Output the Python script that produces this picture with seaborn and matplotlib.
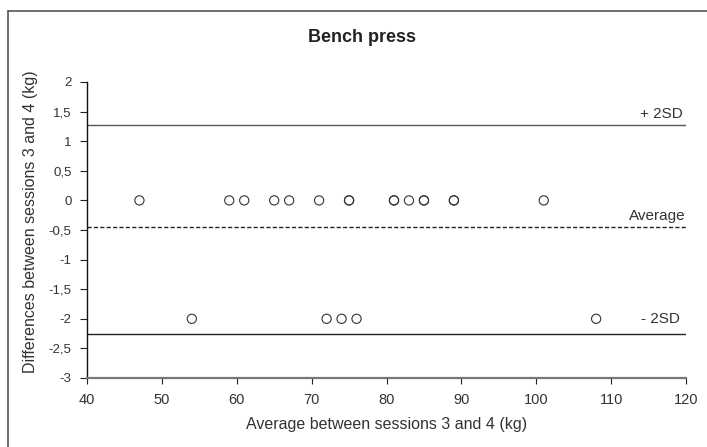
import matplotlib
matplotlib.use("Agg")
import matplotlib.pyplot as plt
import seaborn as sns
import pandas as pd
from matplotlib.lines import Line2D

sns.set_theme(style="white")
plt.rcParams['font.family'] = ['Liberation Sans', 'DejaVu Sans']

# Data
average_kg = [47, 59, 61, 65, 67, 71, 75, 75, 81, 81, 83, 85, 85, 89, 89, 101,
              54, 72, 74, 76, 108]
difference_kg = [0, 0, 0, 0, 0, 0, 0, 0, 0, 0, 0, 0, 0, 0, 0, 0,
                 -2, -2, -2, -2, -2]
upper_2sd = 1.28
mean_diff = -0.45
lower_2sd = -2.25
x_ticks = [40, 50, 60, 70, 80, 90, 100, 110, 120]
y_ticks = [2, 1.5, 1, 0.5, 0, -0.5, -1, -1.5, -2, -2.5, -3]
y_tick_labels = ["2", "1,5", "1", "0,5", "0", "-0,5", "-1", "-1,5", "-2", "-2,5", "-3"]

df = pd.DataFrame({"avg": average_kg, "diff": difference_kg})

fig = plt.figure(figsize=(7.07, 4.47), dpi=100)
ax = fig.add_axes([87/707, 1-378/447, (686-87)/707, (378-82)/447])

txt = "#333333"
sns.scatterplot(data=df, x="avg", y="diff", ax=ax, s=44, facecolor="none",
                edgecolor="#333333", linewidth=0.8, marker="o", zorder=3)

ax.axhline(upper_2sd, color="#555555", lw=1.0)
ax.axhline(mean_diff, color="#222222", lw=1.0, ls=(0, (3.0, 1.6)))
ax.axhline(lower_2sd, color="#222222", lw=1.0)

ytr = ax.get_yaxis_transform()
ax.text(0.995, upper_2sd + 0.11, "+ 2SD", transform=ytr,
        ha="right", va="baseline", fontsize=11, color=txt)
ax.text(1.0, mean_diff + 0.12, "Average", transform=ytr,
        ha="right", va="baseline", fontsize=11, color=txt)
ax.text(0.99, -2.0, "- 2SD", transform=ytr,
        ha="right", va="center", fontsize=11, color=txt)

ax.set_xlim(40, 120)
ax.set_ylim(-3, 2)
ax.set_xticks(x_ticks)
ax.set_xticklabels([str(t) for t in x_ticks])
ax.set_yticks(y_ticks)
ax.set_yticklabels(y_tick_labels)

for s in ["top", "right"]:
    ax.spines[s].set_visible(False)
ax.spines["left"].set_color("#111111")
ax.spines["left"].set_linewidth(1.0)
ax.spines["bottom"].set_color("#777777")
ax.spines["bottom"].set_linewidth(1.6)

ax.tick_params(axis="y", which="both", left=True, direction="out", length=5,
               width=0.8, color="#222222", labelsize=9.5, labelcolor=txt, pad=6)
ax.tick_params(axis="x", which="both", bottom=True, direction="out", length=4,
               width=0.8, color="#222222", labelsize=10.5, labelcolor=txt, pad=7)

ax.set_xlabel("Average between sessions 3 and 4 (kg)", fontsize=11.5, color=txt)
ax.set_ylabel("Differences between sessions 3 and 4 (kg)", fontsize=11.5, color=txt)
ax.xaxis.set_label_coords(0.5, -0.133)
ax.yaxis.set_label_coords(-0.082, 0.527)

ax.text(0.459, 1.152, "Bench press", transform=ax.transAxes, ha="center",
        va="center", fontsize=13, fontweight="bold", color="#222222")

# outer frame (top and left visible)
fig.add_artist(Line2D([8/707, 1.0], [1-11/447, 1-11/447], color="#555555",
                      lw=1.2, transform=fig.transFigure))
fig.add_artist(Line2D([8/707, 8/707], [0.0, 1-11/447], color="#555555",
                      lw=1.2, transform=fig.transFigure))

fig.savefig("out.png", dpi=100)
